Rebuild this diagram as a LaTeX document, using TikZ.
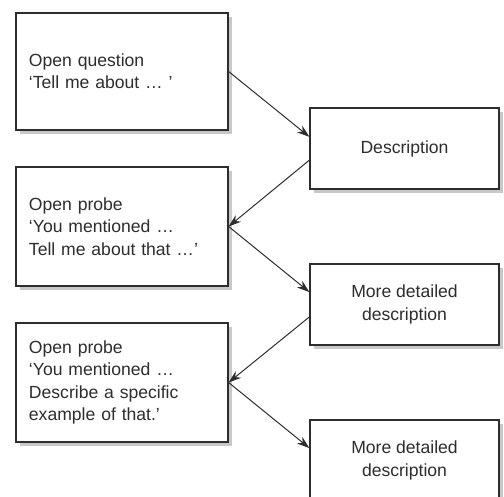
\documentclass[tikz,border=0pt]{standalone}
\usepackage{fontspec}
\setmainfont{Liberation Sans}
\usepackage{tikz}
\usetikzlibrary{positioning,arrows.meta,shadows}
\usepackage{xcolor}
\definecolor{inkgray}{RGB}{45,45,45}
\definecolor{shadowgray}{RGB}{200,200,200}

\begin{document}
\begin{tikzpicture}[x=0.025cm,y=-0.025cm,
    box/.style={rectangle,draw=inkgray,line width=0.8pt,fill=white,text=inkgray,
        font=\fontsize{12.5}{15.8}\selectfont,
        drop shadow={shadow xshift=0.11cm,shadow yshift=-0.11cm,fill=shadowgray,opacity=1}},
    askbox/.style={box,minimum width=5.3cm,text width=4.65cm,align=left,inner xsep=0.325cm},
    replybox/.style={box,minimum width=4.725cm,minimum height=2.025cm,align=center},
    flow/.style={draw=inkgray,line width=0.7pt,-{Stealth[length=9pt,width=6pt]}}]
\clip (0,0) rectangle (504,497);
\fill[white] (0,0) rectangle (504,497);
% left column: questions and probes
\node (q1) at (122,71.5) [askbox,minimum height=2.925cm] {Open question\\`Tell me about \dots\ '};
\node (p1) at (122,226.5) [askbox,minimum height=2.975cm] {Open probe\\`You mentioned \dots\\Tell me about that \dots'};
\node (p2) at (122,382.5) [askbox,minimum height=2.975cm] {Open probe\\`You mentioned \dots\\Describe a specific\\example of that.'};
% right column: answers
\node (d1) at (404.5,148.5) [replybox] {Description};
\node (d2) at (404.5,304.5) [replybox] {More detailed\\description};
\node (d3) at (404.5,460.5) [replybox] {More detailed\\description};
% arrows
\draw[flow] (q1.east) -- ([yshift=0.29cm]d1.west);
\draw[flow] ([yshift=-0.29cm]d1.west) -- (p1.east);
\draw[flow] (p1.east) -- ([yshift=0.31cm]d2.west);
\draw[flow] ([yshift=-0.31cm]d2.west) -- (p2.east);
\draw[flow] (p2.east) -- ([yshift=0.31cm]d3.west);
\end{tikzpicture}
\end{document}
